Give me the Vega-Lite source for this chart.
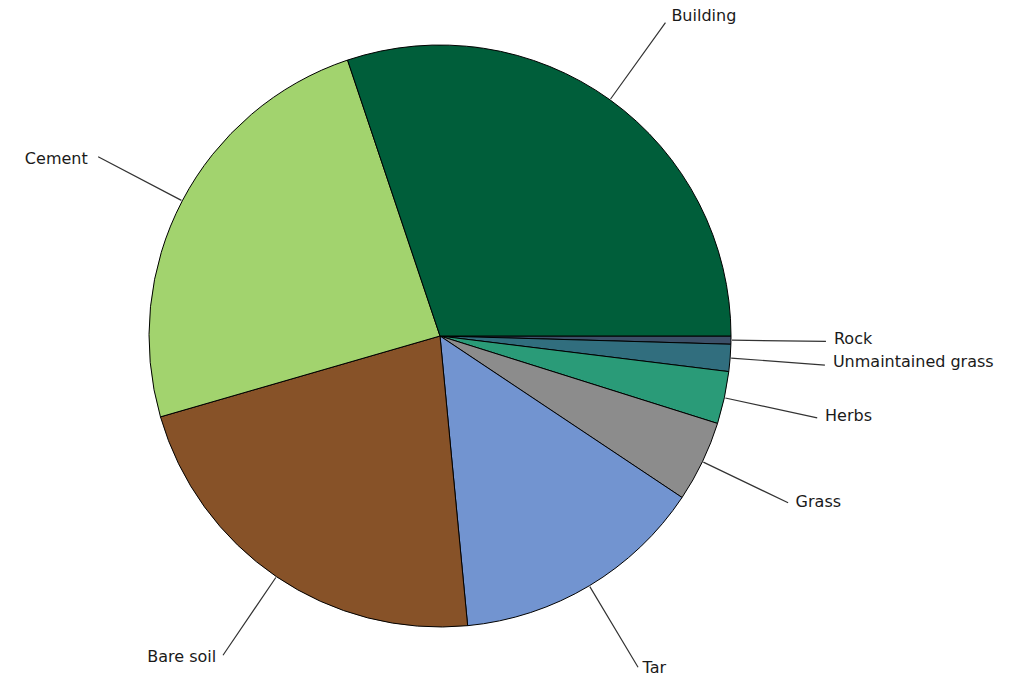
{
  "$schema": "https://vega.github.io/schema/vega-lite/v6.json",
  "width": 880,
  "height": 672,
  "autosize": {"type": "none"},
  "padding": {"left": 0, "top": 0, "right": 149, "bottom": 7},
  "background": "white",
  "view": {"stroke": null},
  "data": {
    "values": [
      {"category": "Rock", "share": 0.45, "rank": 1},
      {"category": "Unmaintained grass", "share": 1.5, "rank": 2},
      {"category": "Herbs", "share": 2.9, "rank": 3},
      {"category": "Grass", "share": 4.5, "rank": 4},
      {"category": "Tar", "share": 14.1, "rank": 5},
      {"category": "Bare soil", "share": 22.0, "rank": 6},
      {"category": "Cement", "share": 24.3, "rank": 7},
      {"category": "Building", "share": 30.1, "rank": 8}
    ]
  },
  "encoding": {
    "theta": {"field": "share", "type": "quantitative", "stack": true, "scale": {"range": [1.5708, 7.854]}},
    "order": {"field": "rank", "type": "quantitative"}
  },
  "layer": [
    {
      "mark": {"type": "arc", "outerRadius": 291, "stroke": "#000000", "strokeWidth": 1},
      "encoding": {
        "color": {
          "field": "category",
          "type": "nominal",
          "legend": null,
          "scale": {
            "domain": ["Building", "Cement", "Bare soil", "Tar", "Grass", "Herbs", "Unmaintained grass", "Rock"],
            "range": ["#005E3A", "#A2D36E", "#875228", "#7294D0", "#8C8C8C", "#2A9B78", "#316E7E", "#3C5068"]
          }
        }
      }
    },
    {
      "mark": {"type": "arc", "padAngle": 3.1416, "outerRadius": 386, "innerRadius": 292, "fillOpacity": 0, "stroke": "#333333", "strokeWidth": 1.2}
    },
    {
      "mark": {"type": "text", "radius": 391, "align": "left", "baseline": "middle", "dx": 3, "dy": -3, "font": "DejaVu Sans", "fontSize": 16, "color": "#1a1a1a"},
      "encoding": {
        "text": {"field": "category"},
        "opacity": {"condition": {"test": "indexof(['Building', 'Grass', 'Herbs', 'Unmaintained grass', 'Rock'], datum.category) >= 0", "value": 1}, "value": 0}
      }
    },
    {
      "mark": {"type": "text", "radius": 391, "align": "left", "baseline": "middle", "dx": 2, "dy": -4, "font": "DejaVu Sans", "fontSize": 16, "color": "#1a1a1a"},
      "encoding": {
        "text": {"field": "category"},
        "opacity": {"condition": {"test": "datum.category == 'Tar'", "value": 1}, "value": 0}
      }
    },
    {
      "mark": {"type": "text", "radius": 391, "align": "right", "baseline": "middle", "dx": -6, "dy": 5, "font": "DejaVu Sans", "fontSize": 16, "color": "#1a1a1a"},
      "encoding": {
        "text": {"field": "category"},
        "opacity": {"condition": {"test": "datum.category == 'Cement'", "value": 1}, "value": 0}
      }
    },
    {
      "mark": {"type": "text", "radius": 391, "align": "right", "baseline": "middle", "dx": -4, "dy": -2, "font": "DejaVu Sans", "fontSize": 16, "color": "#1a1a1a"},
      "encoding": {
        "text": {"field": "category"},
        "opacity": {"condition": {"test": "datum.category == 'Bare soil'", "value": 1}, "value": 0}
      }
    }
  ]
}
